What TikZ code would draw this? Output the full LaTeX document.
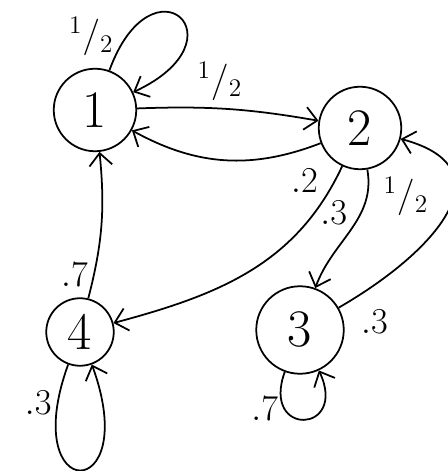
\documentclass[tikz,border=0pt]{standalone}
\usepackage{amsmath,amssymb}
\usepackage{tikz}
\usetikzlibrary{arrows.meta}

\begin{document}
\begin{tikzpicture}[
        state/.style={circle, draw, minimum size=1.65cm, inner sep=0pt, font=\fontsize{30}{32}\selectfont},
        prob/.style={font=\fontsize{21}{23}\selectfont, inner sep=3pt},
        >={Straight Barb[length=7pt,width=13pt]},
        line width=1pt
    ]
        \useasboundingbox (0,0) rectangle (8.96,9.42);

        \node[state] (s1) at (1.9, 7.22) {1};
        \node[state] (s2) at (7.2, 6.86) {2};
        \node[state, minimum size=1.75cm] (s3) at (6.0, 2.82) {3};
        \node[state, minimum size=1.35cm] (s4) at (1.6, 2.78) {4};

        \draw[->] (s1) to[out=70, in=25, min distance=2.5cm] node[prob, pos=.12, left=4pt] {$^1/_2$} (s1);
        \draw[->] (s1) to[bend left=6] node[prob, pos=.45, above=1pt] {$^1/_2$} (s2);
        \draw[->] (s2) to[bend left=25] node[prob, pos=.08, below=8pt] {$.2$} (s1);

        \draw[->] (s2) to[out=245, in=15] node[prob, pos=.18, right] {$.3$} (s4);
        \draw[->] (s2) to[out=280, in=70] node[prob, pos=.2, right=6pt] {$^1/_2$} (s3);
        \draw[->] (s3) to[out=30, in=-15, looseness=1.6] node[prob, pos=.02, below right, xshift=6pt] {$.3$} (s2);
        \draw[->] (s3) to[out=250, in=295, min distance=1.4cm] node[prob, pos=.25, left] {$.7$} (s3);

        \draw[->] (s4) to[bend right=10] node[prob, pos=.15, left] {$.7$} (s1);
        \draw[->] (s4) to[out=250, in=290, min distance=3cm] node[prob, pos=.1, left] {$.3$} (s4);
    \end{tikzpicture}
\end{document}
